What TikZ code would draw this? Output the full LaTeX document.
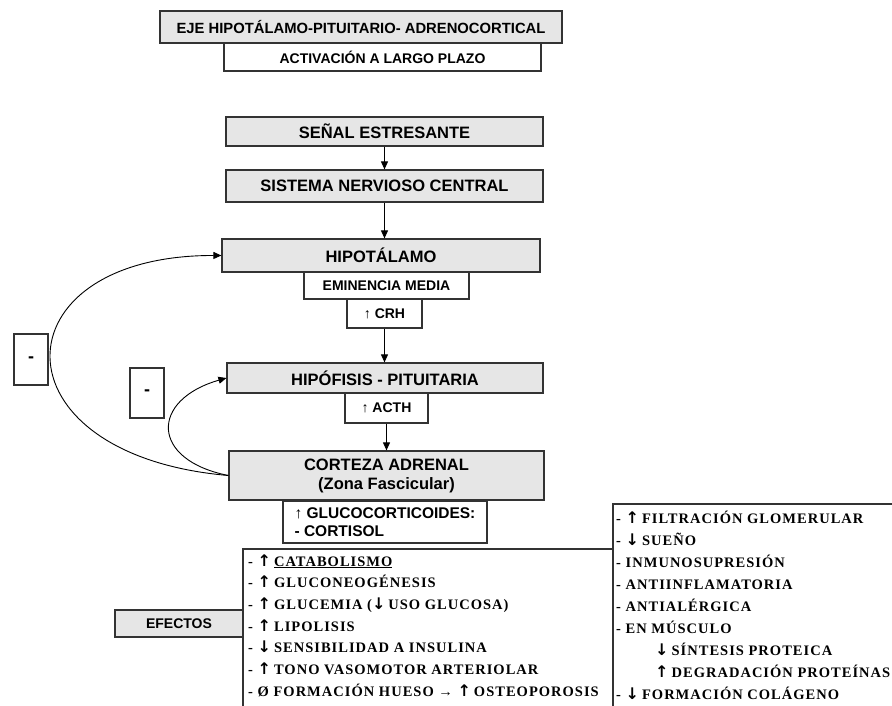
\documentclass[tikz,border=0pt]{standalone}
\usepackage{fontspec}
\setmainfont{Liberation Sans}
\newfontfamily\efont[LetterSpace=7]{Liberation Serif}
\newfontfamily\arrfont{DejaVu Sans}
\newcommand{\ua}{{\arrfont\bfseries\fontsize{16}{16}\selectfont ↑}\hspace{3pt}}
\newcommand{\da}{{\arrfont\bfseries\fontsize{16}{16}\selectfont ↓}\hspace{3pt}}
\usetikzlibrary{arrows.meta}
\definecolor{boxgray}{HTML}{E6E6E6}
\definecolor{edge}{HTML}{333333}
\begin{document}
\begin{tikzpicture}[x=1pt,y=-1pt,
  gbox/.style={draw=edge,line width=1.2pt,fill=boxgray,inner sep=0pt,font=\bfseries\fontsize{16.5}{19}\selectfont,align=center},
  wbox/.style={draw=edge,line width=1.2pt,fill=white,inner sep=0pt,font=\bfseries\fontsize{14}{17}\selectfont,align=center},
  conn/.style={-{Triangle[length=8pt,width=7pt]},line width=0.9pt,black},
  eff/.style={anchor=base west,inner sep=0pt,font=\efont\bfseries\fontsize{14.5}{17}\selectfont},
  listedge/.style={draw=edge,line width=1.2pt},
]
\useasboundingbox (0,0) rectangle (892,706);
\fill[white] (0,0) rectangle (892,706);

% header
\node[gbox,minimum width=402pt,minimum height=32pt,font=\bfseries\fontsize{14.8}{17}\selectfont] (title) at (361,27) {EJE HIPOTÁLAMO-PITUITARIO- ADRENOCORTICAL};
\node[wbox,minimum width=317pt,minimum height=28pt] (activ) at (382.5,57) {ACTIVACIÓN A LARGO PLAZO};

% main chain
\node[gbox,minimum width=317pt,minimum height=29pt] (senal) at (384.5,131.5) {SEÑAL ESTRESANTE};
\node[gbox,minimum width=317pt,minimum height=32pt] (snc) at (384.5,186) {SISTEMA NERVIOSO CENTRAL};
\node[gbox,minimum width=318pt,minimum height=33pt] (hipot) at (381,255.5) {HIPOTÁLAMO};
\node[wbox,minimum width=165pt,minimum height=27pt] (emin) at (386.5,285.5) {EMINENCIA MEDIA};
\node[wbox,minimum width=75pt,minimum height=29pt] (crh) at (384.5,313.5) {↑ CRH};
\node[gbox,minimum width=316pt,minimum height=30pt] (hipof) at (385,378) {HIPÓFISIS - PITUITARIA};
\node[wbox,minimum width=83pt,minimum height=30pt] (acth) at (386.5,408) {↑ ACTH};
\node[gbox,minimum width=315pt,minimum height=49pt] (corteza) at (386.5,475.5) {CORTEZA ADRENAL\\ (Zona Fascicular)};
\node[wbox,minimum width=204pt,minimum height=42pt,font=\bfseries\fontsize{15.5}{17.5}\selectfont,align=left] (gluco) at (385,522) {↑ GLUCOCORTICOIDES:\\- CORTISOL};

% feedback labels
\node[wbox,minimum width=34pt,minimum height=51pt,font=\bfseries\fontsize{18}{20}\selectfont] (neg1) at (31,359.5) {-};
\node[wbox,minimum width=34pt,minimum height=50pt,font=\bfseries\fontsize{18}{20}\selectfont] (neg2) at (147,393) {-};

% connectors
\draw[conn] (senal.south) -- (senal.south |- snc.north);
\draw[conn] (snc.south) -- (snc.south |- hipot.north);
\draw[conn] (crh.south) -- (crh.south |- hipof.north);
\draw[conn] (acth.south) -- (acth.south |- corteza.north);
\draw[conn] (corteza.west) .. controls (-10,455) and (-4,255) .. (hipot.west);
\draw[conn] (corteza.west) .. controls (150,460) and (150,400) .. (hipof.west);

% effects boxes
\draw[listedge] (243,706) -- (243,549) -- (613,549);
\draw[listedge] (613,706) -- (613,504) -- (892,504);
\node[gbox,minimum width=128pt,minimum height=27pt,font=\bfseries\fontsize{14}{17}\selectfont] (efectos) at (179,623.5) {EFECTOS};

\node[eff] (l1) at (248,566) {- \ua\underline{CATABOLISMO}};
\node[eff] (l2) at (248,587.7) {- \ua GLUCONEOGÉNESIS};
\node[eff] (l3) at (248,609.3) {- \ua GLUCEMIA (\da USO GLUCOSA)};
\node[eff] (l4) at (248,631) {- \ua LIPOLISIS};
\node[eff] (l5) at (248,652.7) {- \da SENSIBILIDAD A INSULINA};
\node[eff] (l6) at (248,674.3) {- \ua TONO VASOMOTOR ARTERIOLAR};
\node[eff] (l7) at (248,696) {- Ø FORMACIÓN HUESO → \ua OSTEOPOROSIS};

\node[eff] (r1) at (616,523) {- \ua FILTRACIÓN GLOMERULAR};
\node[eff] (r2) at (616,545.1) {- \da SUEÑO};
\node[eff] (r3) at (616,567.2) {- INMUNOSUPRESIÓN};
\node[eff] (r4) at (616,589.3) {- ANTIINFLAMATORIA};
\node[eff] (r5) at (616,611.4) {- ANTIALÉRGICA};
\node[eff] (r6) at (616,633.5) {- EN MÚSCULO};
\node[eff] (r7) at (655,655.6) {\da SÍNTESIS PROTEICA};
\node[eff] (r8) at (655,677.7) {\ua DEGRADACIÓN PROTEÍNAS};
\node[eff] (r9) at (616,699.8) {- \da FORMACIÓN COLÁGENO};
\end{tikzpicture}
\end{document}
